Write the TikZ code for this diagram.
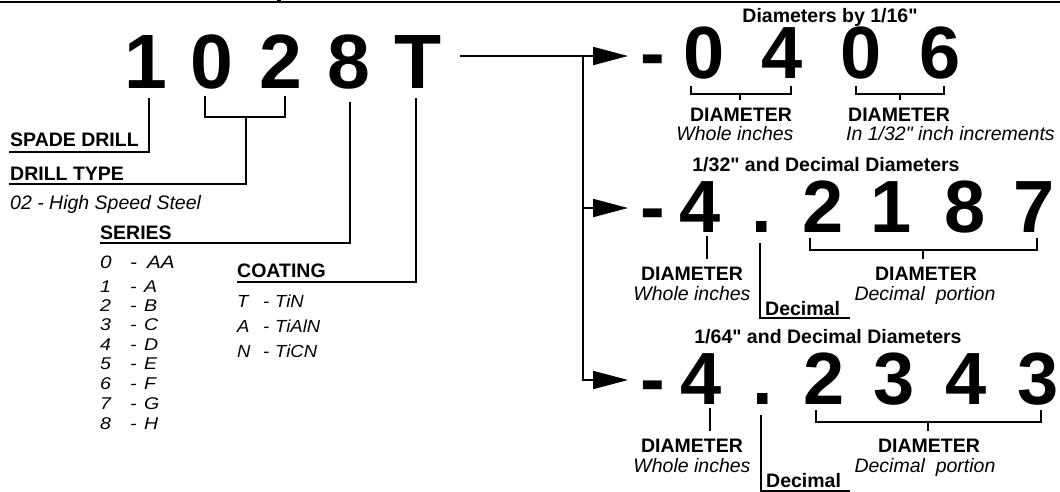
\documentclass[tikz,border=0pt]{standalone}
\usepackage{fontspec}
\setmainfont{Liberation Sans}[Ligatures=TeXOff]
\newfontfamily\lstfont{Liberation Sans}[Ligatures=TeXOff,FakeStretch=1.15]
\newfontfamily\coatfont{Liberation Sans}[Ligatures=TeXOff,FakeStretch=1.06]
\usetikzlibrary{arrows.meta}
\begin{document}
\begin{tikzpicture}[x=1pt,y=-1pt,
  big/.style={font=\fontsize{77}{77}\selectfont\bfseries, inner sep=0pt, anchor=base, text height=56pt, text depth=0pt},
  dig/.style={font=\fontsize{74}{74}\selectfont\bfseries, inner sep=0pt, anchor=base, text height=53pt, text depth=0pt},
  lbl/.style={font=\fontsize{19.5}{22}\selectfont\bfseries, inner sep=0pt},
  itl/.style={font=\fontsize{19.5}{22}\selectfont\itshape, inner sep=0pt},
  lst/.style={font=\lstfont\fontsize{17}{19}\selectfont\itshape, inner sep=0pt, anchor=base west},
  cst/.style={font=\coatfont\fontsize{17.5}{19}\selectfont\itshape, inner sep=0pt, anchor=base west},
  ln/.style={line width=2pt},
  arr/.style={line width=2pt, -{Triangle[length=35pt,width=18pt]}}]
\useasboundingbox (0,0) rectangle (1060,491);
\draw[line width=2.5pt] (0,2) -- (1060,2);
\fill (277,0) rectangle (281,3);

% main code
\node[big] (b1) at (146,88) {1};
\node[big] (b0) at (211.5,88) {0};
\node[big] (b2) at (281,88) {2};
\node[big] (b8) at (348.5,88) {8};
\node[big] (bT) at (418.5,88) {T};

\coordinate (c1) at (149,98);  \coordinate (e1) at (9,152);
\draw[ln] (c1) |- (e1);
\node[lbl, anchor=base west] (spade) at (10,146) {SPADE DRILL};

\coordinate (k0) at (205,96); \coordinate (k2) at (285,96);
\draw[ln] (k0) |- (285,117) -- (k2);
\coordinate (c2) at (246,117); \coordinate (e2) at (9,184);
\draw[ln] (c2) |- (e2);
\node[lbl, anchor=base west] (dtype) at (10,180) {DRILL TYPE};
\node[itl, anchor=base west] (hss) at (10,209) {02 - High Speed Steel};

\coordinate (c3) at (350,102); \coordinate (e3) at (100,243);
\draw[ln] (c3) |- (e3);
\node[lbl, anchor=base west] (series) at (100,239) {SERIES};

\coordinate (c4) at (416,98); \coordinate (e4) at (237,282);
\draw[ln] (c4) |- (e4);
\node[lbl, anchor=base west] (coat) at (237,277) {COATING};

% series list
\node[lst, font=\lstfont\fontsize{18}{19}\selectfont\itshape] (s0) at (100,268) {\makebox[30pt][l]{0}\makebox[17pt][l]{-}AA};
\foreach \n/\l/\y in {1/A/292,2/B/311,3/C/330,4/D/350,5/E/369,6/F/389,7/G/409,8/H/429}
  \node[lst] (s\n) at (100,\y) {\makebox[30pt][l]{\n}\makebox[14pt][l]{-}\l};

% coating list
\node[cst] (ct) at (237,307) {\makebox[26pt][l]{T}\makebox[12pt][l]{-}TiN};
\node[cst] (ca) at (237,332) {\makebox[26pt][l]{A}\makebox[12pt][l]{-}TiAlN};
\node[cst] (cn) at (237,357) {\makebox[26pt][l]{N}\makebox[12pt][l]{-}TiCN};

% arrows
\coordinate (a0) at (460,56); \coordinate (v1) at (583,56);
\coordinate (v2) at (583,208);
\coordinate (t1) at (628,56); \coordinate (t2) at (628,208); \coordinate (t3) at (628,380);
\draw[arr] (a0) -- (t1);
\draw[arr] (v1) |- (t3);
\draw[arr] (v2) -- (t2);

% row 1
\node[lbl, anchor=base] (h1) at (830,22) {Diameters by 1/16"};
\node[dig] (r1m) at (653,78) {-};
\node[dig] (r1a) at (704.5,78) {0};
\node[dig] (r1b) at (782.5,78) {4};
\node[dig] (r1c) at (861,78) {0};
\node[dig] (r1d) at (940,78) {6};
\draw[ln] (691,86) |- (791,94) -- (791,86);
\draw[ln] (740,94) -- (740,100);
\draw[ln] (856,86) |- (944,94) -- (944,86);
\draw[ln] (900,94) -- (900,100);
\node[lbl, anchor=base] (d1a) at (741,121) {DIAMETER};
\node[itl, anchor=base] (w1a) at (735,140) {Whole inches};
\node[lbl, anchor=base west] (d1b) at (848,121) {DIAMETER};
\node[itl, anchor=base west] (w1b) at (846,140) {In 1/32" inch increments};

% row 2
\node[lbl, anchor=base] (h2) at (826,171) {1/32" and Decimal Diameters};
\node[dig] (r2m) at (653,232) {-};
\node[dig] (r2a) at (700,232) {4};
\node[dig] (r2p) at (762,232) {.};
\node[dig] (r2b) at (823.5,232) {2};
\node[dig] (r2c) at (891,232) {1};
\node[dig] (r2d) at (965.5,232) {8};
\node[dig] (r2e) at (1034,232) {7};
\draw[ln] (707,236) -- (707,259);
\draw[ln] (760,243) |- (850,318);
\node[lbl, anchor=base west] (dec2) at (765,315) {Decimal};
\draw[ln] (810,238) |- (1037,250) -- (1037,238);
\draw[ln] (923,250) -- (923,259);
\node[lbl, anchor=base] (d2a) at (692,280) {DIAMETER};
\node[itl, anchor=base] (w2a) at (692,300) {Whole inches};
\node[lbl, anchor=base] (d2b) at (926,280) {DIAMETER};
\node[itl, anchor=base] (w2b) at (925,300) {Decimal\ \ portion};

% row 3
\node[lbl, anchor=base] (h3) at (828,343) {1/64" and Decimal Diameters};
\node[dig] (r3m) at (653,404) {-};
\node[dig] (r3a) at (701,404) {4};
\node[dig] (r3p) at (763,404) {.};
\node[dig] (r3b) at (824.5,404) {2};
\node[dig] (r3c) at (894.5,404) {3};
\node[dig] (r3d) at (966,404) {4};
\node[dig] (r3e) at (1038.5,404) {3};
\draw[ln] (710,408) -- (710,431);
\draw[ln] (761,415) |- (850,490.5);
\node[lbl, anchor=base west] (dec3) at (766,487) {Decimal};
\draw[ln] (816,410) |- (1041,422) -- (1041,410);
\draw[ln] (928,422) -- (928,431);
\node[lbl, anchor=base] (d3a) at (692,452) {DIAMETER};
\node[itl, anchor=base] (w3a) at (692,472) {Whole inches};
\node[lbl, anchor=base] (d3b) at (929,452) {DIAMETER};
\node[itl, anchor=base] (w3b) at (925,472) {Decimal\ \ portion};
\end{tikzpicture}
\end{document}
